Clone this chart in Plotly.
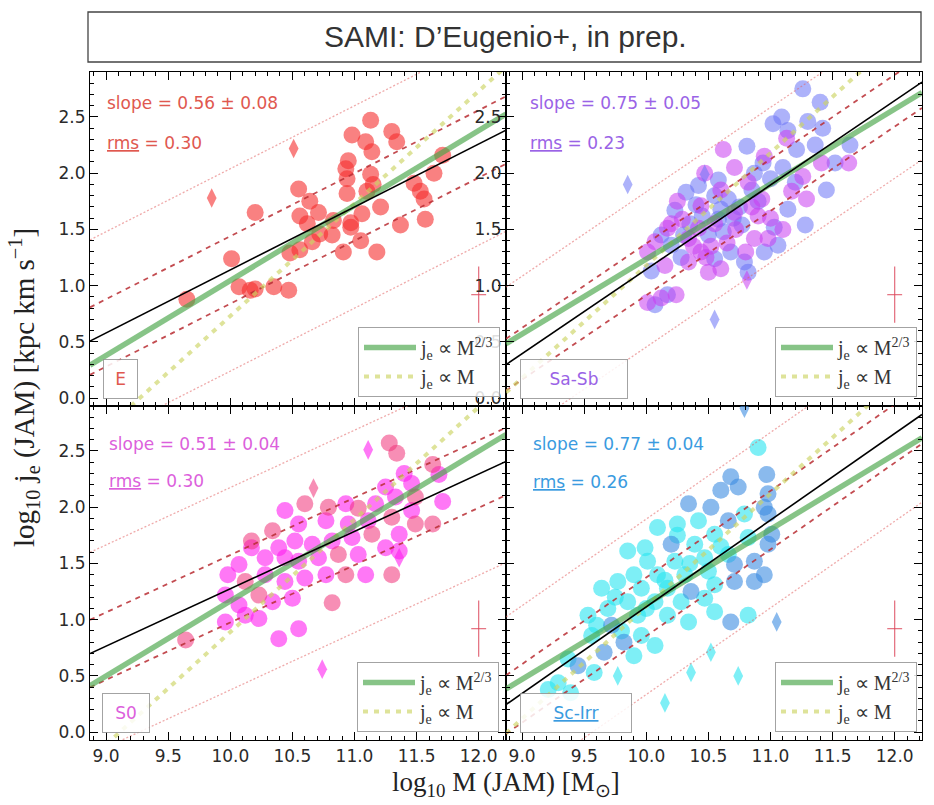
import numpy as np
import plotly.graph_objects as go
from plotly.subplots import make_subplots

# ---------------------------------------------------------------- axes
MASS_RANGE = [8.87, 12.22]
J_RANGE = [-0.07, 2.9]
PIVOT = 10.5  # log M at which line normalisations are quoted

# ---------------------------------------------------------------- fits
panel_names = ["E", "Sa-Sb", "S0", "Sc-Irr"]
fit_slope = [0.56, 0.75, 0.51, 0.77]
fit_slope_err = [0.08, 0.05, 0.04, 0.04]
fit_rms = [0.30, 0.23, 0.30, 0.26]
fit_pivot_j = [1.42, 1.52, 1.53, 1.50]
twothirds_pivot_j = [1.38, 1.57, 1.50, 1.47]
linear_pivot_j = [1.23, 1.68, 1.39, 1.62]

# typical measurement uncertainty (drawn as a cross)
err_mass = [12.0]
err_j = [0.92]
err_dmass = [0.06]
err_dj = [0.25]

# ---------------------------------------------------------------- E
e_a_mass = [11.13, 10.98, 11.30, 11.09, 11.34, 11.14, 10.95, 10.93, 10.94, 11.13,
            11.15, 10.94, 10.55, 10.64, 10.56, 10.71, 10.62, 10.72, 10.83, 10.97,
            10.97, 11.06, 11.21, 11.10, 10.82, 11.05, 10.91, 11.18, 11.37, 11.48,
            11.53, 11.56, 11.57, 11.64, 11.71, 10.66, 10.56, 10.48, 10.01, 10.07,
            10.16, 10.20, 10.35, 10.47, 9.65, 10.20]
e_a_j = [2.47, 2.34, 2.37, 2.28, 2.28, 2.19, 2.11, 2.04, 1.95, 1.99,
         1.90, 1.82, 1.86, 1.75, 1.62, 1.65, 1.55, 1.46, 1.58, 1.56,
         1.52, 1.64, 1.70, 1.84, 1.45, 1.40, 1.30, 1.30, 1.54, 1.91,
         1.84, 1.77, 1.59, 2.00, 2.16, 1.39, 1.32, 1.29, 1.24, 0.99,
         0.96, 0.97, 0.99, 0.96, 0.88, 1.65]
e_b_mass = []
e_b_j = []
e_dia_a_mass = [9.85, 10.51]
e_dia_a_j = [1.78, 2.22]
e_dia_b_mass = []
e_dia_b_j = []

# ---------------------------------------------------------------- Sa-Sb
sab_a_mass = [11.26, 11.40, 11.09, 11.02, 11.14, 11.30, 11.42, 11.64, 11.36, 11.21,
              11.52, 10.81, 10.94, 11.14, 11.03, 10.87, 10.58, 10.42, 10.32, 10.23,
              10.55, 10.66, 10.58, 10.77, 10.20, 10.55, 10.68, 10.79, 11.28, 10.82,
              10.17, 10.07, 10.04, 11.06, 10.35, 10.50, 10.62, 10.75, 10.85, 11.00,
              10.45, 10.95, 11.20, 11.45, 10.28, 10.12, 10.40, 10.70, 10.90, 10.30,
              10.60, 11.10]
sab_a_j = [2.75, 2.63, 2.50, 2.44, 2.38, 2.46, 2.40, 2.25, 2.25, 2.21,
           2.09, 2.24, 2.09, 1.68, 1.52, 2.00, 1.94, 1.89, 1.83, 1.67,
           1.80, 1.77, 1.59, 1.54, 1.36, 1.24, 1.30, 1.21, 1.54, 1.12,
           0.92, 0.83, 1.13, 1.36, 1.55, 1.45, 1.48, 1.70, 1.85, 1.95,
           1.62, 1.30, 1.92, 1.85, 1.25, 1.45, 1.72, 1.60, 1.75, 1.45,
           1.68, 2.05]
sab_b_mass = [11.13, 11.41, 11.63, 10.62, 10.71, 11.26, 11.17, 11.29, 10.93, 10.82,
              10.47, 10.29, 10.44, 10.71, 10.90, 10.42, 10.17, 10.07, 10.34, 10.44,
              10.34, 10.60, 10.50, 10.98, 10.87, 10.12, 10.01, 10.24, 10.01, 10.15,
              10.38, 10.55, 10.65, 10.80, 11.00, 10.25, 10.60, 11.10, 10.48, 10.95,
              10.52, 10.72, 10.20, 10.85]
sab_b_j = [2.31, 2.09, 2.09, 2.21, 2.05, 1.97, 1.84, 1.77, 1.77, 1.92,
           2.00, 1.59, 1.71, 1.65, 1.62, 1.51, 1.51, 1.39, 1.42, 1.30,
           1.21, 1.15, 1.12, 1.42, 1.42, 0.89, 0.85, 0.92, 1.30, 1.18,
           1.35, 1.55, 1.38, 1.30, 1.60, 1.75, 1.85, 1.50, 1.25, 2.15,
           1.35, 1.50, 1.55, 1.70]
sab_dia_a_mass = [9.85, 10.47, 10.55]
sab_dia_a_j = [1.90, 1.99, 0.70]
sab_dia_b_mass = [10.81]
sab_dia_b_j = [1.05]

# ---------------------------------------------------------------- S0
s0_a_mass = [11.40, 11.68, 11.25, 11.46, 11.33, 11.17, 10.93, 10.44, 11.71, 11.46,
             11.11, 10.95, 10.77, 10.55, 10.17, 10.39, 10.52, 10.66, 10.82, 10.98,
             11.36, 11.36, 11.25, 11.03, 10.71, 10.55, 10.44, 10.28, 10.07, 9.98,
             10.28, 10.44, 10.60, 10.77, 11.09, 9.96, 10.07, 10.34, 10.50, 10.12,
             9.96, 10.23, 10.55, 10.39]
s0_a_j = [2.30, 2.29, 2.18, 2.21, 2.09, 2.03, 2.03, 1.97, 2.05, 1.97,
          1.88, 1.85, 1.88, 1.85, 1.64, 1.64, 1.70, 1.67, 1.70, 1.73,
          1.76, 1.61, 1.64, 1.58, 1.55, 1.52, 1.55, 1.55, 1.49, 1.40,
          1.40, 1.34, 1.37, 1.40, 1.40, 1.22, 1.13, 1.16, 1.19, 1.04,
          0.98, 1.01, 0.92, 0.83]
s0_b_mass = [11.28, 11.34, 11.63, 11.49, 11.03, 10.79, 10.60, 11.30, 10.34, 10.17,
             11.14, 11.49, 11.63, 10.87, 10.12, 10.93, 11.30, 10.23, 10.82, 9.64]
s0_b_j = [2.57, 2.48, 2.38, 2.09, 1.99, 2.00, 2.03, 1.91, 1.79, 1.70,
          1.76, 1.85, 1.85, 1.58, 1.34, 1.40, 1.40, 1.22, 1.15, 0.82]
s0_dia_a_mass = [11.11, 11.36, 10.74]
s0_dia_a_j = [2.51, 1.55, 0.56]
s0_dia_b_mass = [10.67]
s0_dia_b_j = [2.17]

# ---------------------------------------------------------------- Sc-Irr
sc_a_mass = [10.90, 10.79, 10.42, 10.25, 10.09, 10.55, 10.82, 10.39, 9.99, 9.85,
             10.01, 10.23, 10.47, 10.66, 10.50, 10.31, 10.09, 9.90, 9.77, 9.64,
             9.96, 10.17, 10.55, 10.47, 10.28, 10.07, 9.85, 9.69, 9.53, 9.93,
             10.17, 10.34, 10.55, 10.82, 9.56, 9.96, 10.07, 9.90, 9.37, 9.29,
             9.21, 9.39, 9.58, 9.75, 10.00, 10.15, 10.35, 10.60, 9.60, 9.80, 10.25]
sc_a_j = [2.53, 1.94, 1.88, 1.85, 1.82, 1.76, 1.73, 1.67, 1.64, 1.61,
          1.52, 1.52, 1.55, 1.58, 1.43, 1.40, 1.40, 1.40, 1.34, 1.28,
          1.28, 1.28, 1.31, 1.19, 1.16, 1.16, 1.16, 1.10, 1.04, 1.04,
          1.04, 0.98, 1.07, 1.04, 0.86, 0.86, 0.77, 0.68, 0.65, 0.44,
          0.38, 0.35, 0.53, 1.20, 1.10, 1.35, 1.50, 1.65, 0.95, 0.90, 1.75]
sc_b_mass = [10.97, 10.68, 10.74, 10.60, 10.98, 10.34, 10.52, 10.95, 10.98, 10.66,
             11.01, 10.98, 10.20, 10.87, 10.71, 10.36, 10.71, 10.95, 10.87, 10.68,
             9.72, 9.66, 9.82, 9.45]
sc_b_j = [2.29, 2.27, 2.18, 2.15, 2.12, 2.03, 2.00, 2.00, 1.94, 1.88,
          1.76, 1.67, 1.67, 1.52, 1.49, 1.25, 1.34, 1.40, 1.34, 0.98,
          0.95, 0.71, 0.80, 0.59]
sc_dia_a_mass = [10.52, 10.36, 10.74, 10.15, 9.77]
sc_dia_a_j = [0.71, 0.53, 0.50, 0.26, 0.50]
sc_dia_b_mass = [11.05, 10.79]
sc_dia_b_j = [0.98, 2.88]

# ---------------------------------------------------------------- styling
text_colors = ["#e0584f", "#9a63e6", "#dc5fdc", "#3a9be0"]
color_a = ["rgba(245,45,45,0.6)", "rgba(105,115,245,0.55)",
           "rgba(255,30,240,0.6)", "rgba(40,228,240,0.6)"]
color_b = ["rgba(245,45,45,0.6)", "rgba(200,60,240,0.55)",
           "rgba(240,50,120,0.55)", "rgba(60,140,225,0.6)"]

circ_a = [(e_a_mass, e_a_j), (sab_a_mass, sab_a_j), (s0_a_mass, s0_a_j), (sc_a_mass, sc_a_j)]
circ_b = [(e_b_mass, e_b_j), (sab_b_mass, sab_b_j), (s0_b_mass, s0_b_j), (sc_b_mass, sc_b_j)]
dia_a = [(e_dia_a_mass, e_dia_a_j), (sab_dia_a_mass, sab_dia_a_j),
         (s0_dia_a_mass, s0_dia_a_j), (sc_dia_a_mass, sc_dia_a_j)]
dia_b = [(e_dia_b_mass, e_dia_b_j), (sab_dia_b_mass, sab_dia_b_j),
         (s0_dia_b_mass, s0_dia_b_j), (sc_dia_b_mass, sc_dia_b_j)]

positions = [(1, 1), (1, 2), (2, 1), (2, 2)]
legend_ids = ["legend", "legend2", "legend3", "legend4"]

W, H = 934, 805
ML, MR, MT, MB = 90, 12, 72, 65
PW, PH = W - ML - MR, H - MT - MB


def px_to_paper(px, py):
    return (px - ML) / PW, (H - MB - py) / PH


fig = make_subplots(rows=2, cols=2, horizontal_spacing=0, vertical_spacing=0)

xs = np.array(MASS_RANGE)
SERIF = "Liberation Serif, Times New Roman, serif"
SANS = "DejaVu Sans, Verdana, sans-serif"

for k in range(4):
    r, c = positions[k]
    lg = legend_ids[k]

    # galaxies
    for (m, j), col in ((circ_a[k], color_a[k]), (circ_b[k], color_b[k])):
        if len(m):
            fig.add_trace(go.Scatter(x=m, y=j, mode="markers", showlegend=False,
                                     marker=dict(size=17, color=col, line=dict(width=0))),
                          row=r, col=c)
    for (m, j), col in ((dia_a[k], color_a[k]), (dia_b[k], color_b[k])):
        if len(m):
            fig.add_trace(go.Scatter(x=m, y=j, mode="markers", showlegend=False,
                                     marker=dict(size=14, symbol="diamond-tall", color=col,
                                                 line=dict(width=0))),
                          row=r, col=c)

    fit = fit_pivot_j[k] + fit_slope[k] * (xs - PIVOT)
    # +/- 3 rms
    for sgn in (1, -1):
        fig.add_trace(go.Scatter(x=xs, y=fit + sgn * 3 * fit_rms[k], mode="lines",
                                 showlegend=False, hoverinfo="skip",
                                 line=dict(color="rgba(225,100,100,0.55)", width=1.3, dash="2px,2px")),
                      row=r, col=c)
    # +/- 1 rms
    for sgn in (1, -1):
        fig.add_trace(go.Scatter(x=xs, y=fit + sgn * fit_rms[k], mode="lines",
                                 showlegend=False, hoverinfo="skip",
                                 line=dict(color="rgba(185,45,50,0.85)", width=1.8, dash="5px,5px")),
                      row=r, col=c)

    # reference relations
    fig.add_trace(go.Scatter(x=xs, y=linear_pivot_j[k] + 1.0 * (xs - PIVOT), mode="lines",
                             name="j<sub>e</sub> \u221d M", legend=lg, legendrank=2,
                             line=dict(color="rgba(205,212,100,0.65)", width=4, dash="5px,6px")),
                  row=r, col=c)
    fig.add_trace(go.Scatter(x=xs, y=twothirds_pivot_j[k] + (2.0 / 3.0) * (xs - PIVOT), mode="lines",
                             name="j<sub>e</sub> \u221d M<sup>2/3</sup>", legend=lg, legendrank=1,
                             line=dict(color="rgba(70,165,70,0.65)", width=5.5)),
                  row=r, col=c)

    # best fit
    fig.add_trace(go.Scatter(x=xs, y=fit, mode="lines", showlegend=False,
                             line=dict(color="black", width=1.6)),
                  row=r, col=c)

    # typical uncertainty
    fig.add_trace(go.Scatter(x=err_mass, y=err_j, mode="markers", showlegend=False,
                             marker=dict(size=1, color="rgba(0,0,0,0)"),
                             error_x=dict(type="data", array=err_dmass, width=0,
                                          color="rgba(220,70,90,0.8)", thickness=1.2),
                             error_y=dict(type="data", array=err_dj, width=0,
                                          color="rgba(220,70,90,0.8)", thickness=1.2)),
                  row=r, col=c)

# ---------------------------------------------------------------- axes
tickfont = dict(family=SANS, size=17, color="#2a2a2a")
for k in range(4):
    r, c = positions[k]
    fig.update_xaxes(range=MASS_RANGE, tick0=9.0, dtick=0.5, tickformat=".1f",
                     ticks="inside", ticklen=8, tickwidth=1, tickcolor="black",
                     minor=dict(dtick=0.1, ticks="inside", ticklen=4, tickcolor="black"),
                     mirror="allticks", showline=True, linecolor="black", linewidth=1.2,
                     showgrid=False, zeroline=False, tickfont=tickfont,
                     showticklabels=(r == 2), row=r, col=c)
    fig.update_yaxes(range=J_RANGE, tick0=0.0, dtick=0.5, tickformat=".1f",
                     ticks="inside", ticklen=8, tickwidth=1, tickcolor="black",
                     minor=dict(dtick=0.1, ticks="inside", ticklen=4, tickcolor="black"),
                     mirror="allticks", showline=True, linecolor="black", linewidth=1.2,
                     showgrid=False, zeroline=False, tickfont=tickfont,
                     ticklabeloverflow="allow",
                     showticklabels=(k != 3), row=r, col=c)

# ---------------------------------------------------------------- legends
legend_anchor_px = [(500, 397), (917, 397), (499, 732), (917, 732)]
legend_layout = {}
for k in range(4):
    lx, ly = px_to_paper(*legend_anchor_px[k])
    legend_layout[legend_ids[k]] = dict(
        x=lx, y=ly, xanchor="right", yanchor="bottom",
        bgcolor="rgba(255,255,255,0.85)", bordercolor="rgba(140,140,140,0.8)", borderwidth=1,
        font=dict(family=SERIF, size=20, color="#333"), itemwidth=52, tracegroupgap=0,
    )

# ---------------------------------------------------------------- annotations
annotations = []
xrefs = ["x domain", "x2 domain", "x3 domain", "x4 domain"]
yrefs = ["y domain", "y2 domain", "y3 domain", "y4 domain"]
slope_pos = [(0.036, 0.907, 0.787), (0.053, 0.907, 0.787),
             (0.041, 0.886, 0.774), (0.060, 0.886, 0.772)]
label_box = [(0.031, 31), (0.034, 104), (0.029, 44), (0.034, 108)]
underline = '<span style="text-decoration:underline;text-decoration-style:dotted;text-decoration-color:#e03a3a">{}</span>'

for k in range(4):
    col = text_colors[k]
    sx, sy, ry = slope_pos[k]
    annotations.append(dict(xref=xrefs[k], yref=yrefs[k], x=sx, y=sy, xanchor="left", yanchor="middle",
                            text=f"slope = {fit_slope[k]:.2f} \u00b1 {fit_slope_err[k]:.2f}",
                            showarrow=False, font=dict(family=SANS, size=17, color=col)))
    annotations.append(dict(xref=xrefs[k], yref=yrefs[k], x=sx, y=ry, xanchor="left", yanchor="middle",
                            text=underline.format("rms") + f" = {fit_rms[k]:.2f}",
                            showarrow=False, font=dict(family=SANS, size=17, color=col)))
    bx, bw = label_box[k]
    name = panel_names[k]
    if name == "Sc-Irr":
        name = underline.format(name)
    annotations.append(dict(xref=xrefs[k], yref=yrefs[k], x=bx, y=0.02, xanchor="left", yanchor="bottom",
                            text=name, showarrow=False, width=bw, height=36, align="center", valign="middle",
                            bgcolor="rgba(255,255,255,0.85)", bordercolor="rgba(140,140,140,0.8)",
                            borderwidth=1, borderpad=1,
                            font=dict(family=SANS, size=17, color=text_colors[k])))

# axis titles
tx, ty = px_to_paper(24, 388)
annotations.append(dict(xref="paper", yref="paper", x=tx, y=ty, textangle=-90, showarrow=False,
                        xanchor="center", yanchor="middle",
                        text="log<sub>10</sub> j<sub>e</sub> (JAM) [kpc km s<sup>\u22121</sup>]",
                        font=dict(family=SERIF, size=29, color="#222")))
tx, ty = px_to_paper(506, 784)
annotations.append(dict(xref="paper", yref="paper", x=tx, y=ty, showarrow=False,
                        xanchor="center", yanchor="middle",
                        text="log<sub>10</sub> M (JAM) [M<sub>\u2299</sub>]",
                        font=dict(family=SERIF, size=27, color="#222")))

# boxed header
bx0, by0 = px_to_paper(88, 62)
bx1, by1 = px_to_paper(921, 12)
hx, hy = px_to_paper(505, 37)
annotations.append(dict(xref="paper", yref="paper", x=hx, y=hy, showarrow=False,
                        xanchor="center", yanchor="middle",
                        text="SAMI: D\u2019Eugenio+, in prep.",
                        font=dict(family="Liberation Sans, Arial, sans-serif", size=30, color="#333")))

shapes = [dict(type="rect", xref="paper", yref="paper", x0=bx0, y0=by0, x1=bx1, y1=by1,
               line=dict(color="#444", width=1.3), fillcolor="rgba(0,0,0,0)")]

fig.update_layout(
    width=W, height=H, autosize=False,
    margin=dict(l=ML, r=MR, t=MT, b=MB),
    plot_bgcolor="white", paper_bgcolor="white",
    annotations=annotations, shapes=shapes,
    **legend_layout,
)

fig.write_html("out.html")
